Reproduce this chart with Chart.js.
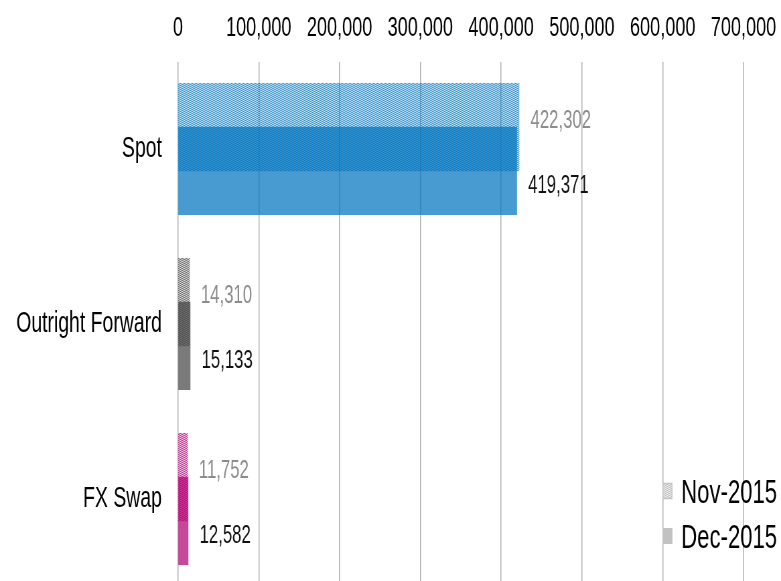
<!DOCTYPE html>
<html>
<head>
<meta charset="utf-8">
<script src="https://cdn.jsdelivr.net/npm/chart.js@4.4.0/dist/chart.umd.min.js"></script>
<style>
html, body { margin: 0; padding: 0; overflow: hidden; background: #fff; }
</style>
</head>
<body>
<!-- drawn wide and squeezed to 781px, the reference text is condensed -->
<canvas id="canvas" width="1166" height="592" style="width:781px;height:592px;display:block"></canvas>
<script>
const categories = ['Spot', 'Outright Forward', 'FX Swap']
const seriesNames = ['Nov-2015', 'Dec-2015']
const nov2015 = [422302, 14310, 11752]
const dec2015 = [419371, 15133, 12582]
const xMax = 700000
const xStep = 100000

const FONT = '"Liberation Sans", Arial, sans-serif'
const baseColors = [[0, 117, 190], [70, 70, 70], [179, 0, 115]]

function fmt(v) {
  return Number(v).toLocaleString('en-US')
}

// small checker pattern, gives the dotted look of the Nov bars
function hatch(rgb, a1, a2) {
  var c = document.createElement('canvas')
  c.width = 2
  c.height = 2
  var x = c.getContext('2d')
  x.fillStyle = 'rgba(' + rgb.join(',') + ',' + a2 + ')'
  x.fillRect(0, 0, 2, 2)
  x.fillStyle = 'rgba(' + rgb.join(',') + ',' + a1 + ')'
  x.fillRect(0, 0, 1, 1)
  x.fillRect(1, 1, 1, 1)
  return x.createPattern(c, 'repeat')
}

const novFill = baseColors.map(c => hatch(c, 0.8, 0.16))
const decFill = baseColors.map(c => 'rgba(' + c.join(',') + ',0.72)')

/***************************** value labels next to the bars */
const valueLabels = {
  id: 'valueLabels',
  afterDatasetsDraw(chart) {
    const ctx = chart.ctx
    ctx.save()
    ctx.font = '25px ' + FONT
    ctx.textBaseline = 'middle'
    ctx.textAlign = 'left'
    chart.data.datasets.forEach((ds, i) => {
      const meta = chart.getDatasetMeta(i)
      ctx.fillStyle = i === 0 ? '#8c8c8c' : '#111111'
      meta.data.forEach((bar, j) => {
        ctx.fillText(fmt(ds.data[j]), bar.x + 17, bar.y + (i === 0 ? -6 : 15))
      })
    })
    ctx.restore()
  }
}

/***************************** legend in the lower right corner */
const cornerLegend = {
  id: 'cornerLegend',
  afterDraw(chart) {
    const ctx = chart.ctx
    const a = chart.chartArea
    const bx = a.right - 121
    const tops = [483, 528]
    const boxFills = [hatch([140, 140, 140], 0.5, 0.12), '#c2c2c2']
    ctx.save()
    ctx.font = '33px ' + FONT
    ctx.textBaseline = 'middle'
    ctx.textAlign = 'left'
    seriesNames.forEach((name, i) => {
      ctx.fillStyle = '#ffffff'
      ctx.fillRect(bx, tops[i], 15, 16)
      ctx.fillStyle = boxFills[i]
      ctx.fillRect(bx, tops[i], 15, 16)
      if (i === 0) {
        ctx.strokeStyle = '#c4c4c4'
        ctx.lineWidth = 1.5
        ctx.strokeRect(bx + 0.75, tops[i] + 0.5, 13.5, 15)
      }
      ctx.fillStyle = '#000'
      ctx.fillText(name, bx + 28, tops[i] + 11)
    })
    ctx.restore()
  }
}

const data = {
  labels: categories,
  datasets: [
    {
      label: seriesNames[0],
      data: nov2015,
      backgroundColor: novFill,
      borderWidth: 0,
      categoryPercentage: 0.5,
      barPercentage: 2.0,
    },
    {
      label: seriesNames[1],
      data: dec2015,
      backgroundColor: decFill,
      borderWidth: 0,
      categoryPercentage: 0.5,
      barPercentage: 2.0,
    },
  ],
}

const config = {
  type: 'bar',
  data: data,
  options: {
    indexAxis: 'y',
    responsive: false,
    animation: false,
    layout: { padding: { left: 0, right: 56, top: 0, bottom: 5.5 } },
    plugins: {
      legend: { display: false },
      tooltip: { enabled: false },
    },
    scales: {
      x: {
        position: 'top',
        min: 0,
        max: xMax,
        grid: { color: '#b0b0b0', lineWidth: 1.5, drawTicks: false },
        border: { display: false },
        ticks: {
          stepSize: xStep,
          padding: 17,
          color: '#000',
          font: { family: FONT, size: 27 },
          callback: v => fmt(v),
        },
        afterFit: s => {
          s.height = 61.5
          s.paddingLeft = 0
          s.paddingRight = 0
          s.paddingTop = 0
          s.paddingBottom = 0
        },
      },
      y: {
        grid: { display: false, drawTicks: false },
        border: { display: false },
        ticks: {
          padding: 24,
          color: '#000',
          font: { family: FONT, size: 29 },
        },
        afterFit: s => {
          s.width = 265.7
          s.paddingLeft = 0
          s.paddingRight = 0
          s.paddingTop = 0
          s.paddingBottom = 0
        },
      },
    },
  },
  plugins: [valueLabels, cornerLegend],
}

const canvas = document.getElementById('canvas')
const chart = new Chart(canvas, config)
</script>
</body>
</html>
